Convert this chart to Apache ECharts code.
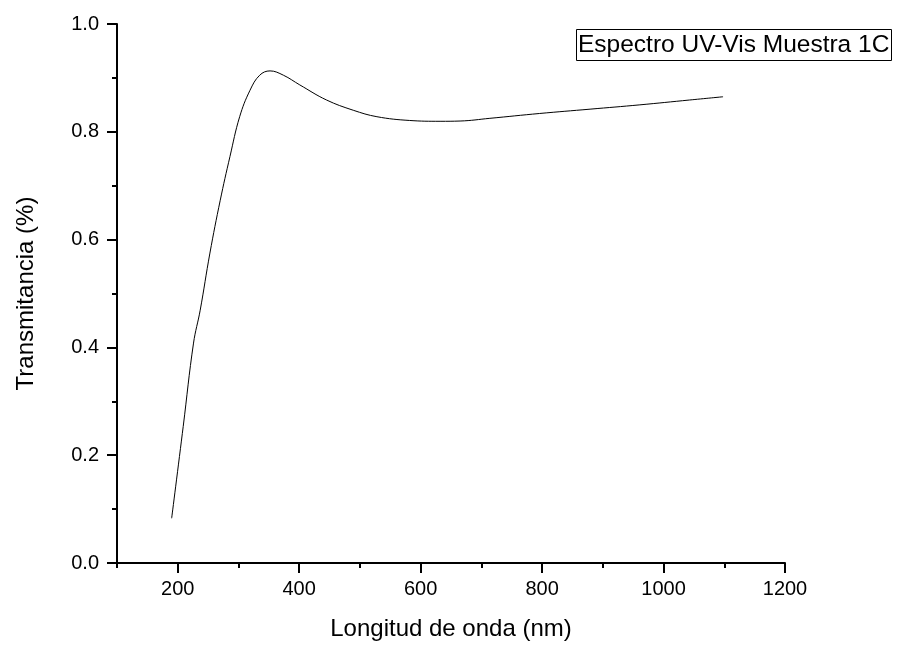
<!DOCTYPE html>
<html>
<head>
<meta charset="utf-8">
<script src="https://cdn.jsdelivr.net/npm/echarts@6/dist/echarts.min.js"></script>
<style>html,body{margin:0;padding:0;background:#fff}#c{width:912px;height:646px}</style>
</head>
<body>
<div id="c"></div>
<script>
var wavelengths = [190, 209, 226, 237, 253, 270, 286, 302, 319, 335, 352, 374, 401, 445, 489, 528, 582, 632, 665, 714, 796, 879, 961, 1043, 1098];
var transmittance = [0.083, 0.253, 0.408, 0.469, 0.575, 0.673, 0.754, 0.828, 0.877, 0.905, 0.913, 0.905, 0.887, 0.859, 0.840, 0.828, 0.821, 0.8195, 0.820, 0.825, 0.834, 0.842, 0.850, 0.859, 0.865];
var xMajorTicks = [200, 400, 600, 800, 1000, 1200];
var xMinorTicks = [100, 300, 500, 700, 900, 1100];
var seriesName = 'Espectro UV-Vis Muestra 1C';
var xTitle = 'Longitud de onda (nm)';
var yTitle = 'Transmitancia (%)';

var FONT = 'Liberation Sans, Arial, sans-serif';
var chart = echarts.init(document.getElementById('c'), null, {renderer: 'canvas'});
var data = wavelengths.map(function (w, i) { return [w, transmittance[i]]; });
chart.setOption({
  animation: false,
  backgroundColor: '#fff',
  title: {
    text: seriesName,
    left: 576, top: 29,
    borderColor: '#000', borderWidth: 1,
    padding: [4, 2, 3, 2],
    textStyle: {fontFamily: FONT, fontSize: 24.5, fontWeight: 'normal', color: '#000'}
  },
  grid: {left: 117, right: 127, top: 24, bottom: 83},
  xAxis: [{
    type: 'value', min: 100, max: 1200, interval: 100,
    name: xTitle, nameLocation: 'middle', nameGap: 54,
    nameTextStyle: {fontFamily: FONT, fontSize: 24, color: '#000'},
    axisLine: {show: true, lineStyle: {color: '#000', width: 2}},
    axisTick: {show: true, customValues: xMajorTicks, length: 10, lineStyle: {color: '#000', width: 2}},
    axisLabel: {customValues: xMajorTicks, fontFamily: FONT, fontSize: 20, color: '#000', margin: 16,
      formatter: function (v) { return String(v); }},
    splitLine: {show: false}
  }, {
    type: 'value', min: 100, max: 1200, interval: 100, position: 'bottom',
    axisLine: {show: false},
    axisTick: {show: true, customValues: xMinorTicks, length: 5, lineStyle: {color: '#000', width: 2}},
    axisLabel: {show: false},
    splitLine: {show: false}
  }],
  yAxis: {
    type: 'value', min: 0, max: 1, interval: 0.2,
    name: yTitle, nameLocation: 'middle', nameGap: 79, nameRotate: 90,
    nameTextStyle: {fontFamily: FONT, fontSize: 24, color: '#000'},
    axisLine: {show: true, lineStyle: {color: '#000', width: 2}},
    axisTick: {show: true, length: 10, lineStyle: {color: '#000', width: 2}},
    minorTick: {show: true, splitNumber: 2, length: 5, lineStyle: {color: '#000', width: 2}},
    axisLabel: {fontFamily: FONT, fontSize: 20, color: '#000', margin: 18,
      formatter: function (v) { return v.toFixed(1); }},
    splitLine: {show: false}
  },
  series: [{
    type: 'line', name: seriesName, data: data, xAxisIndex: 0,
    smooth: 0.4, showSymbol: false,
    lineStyle: {color: '#000', width: 1}
  }]
});
</script>
</body>
</html>
